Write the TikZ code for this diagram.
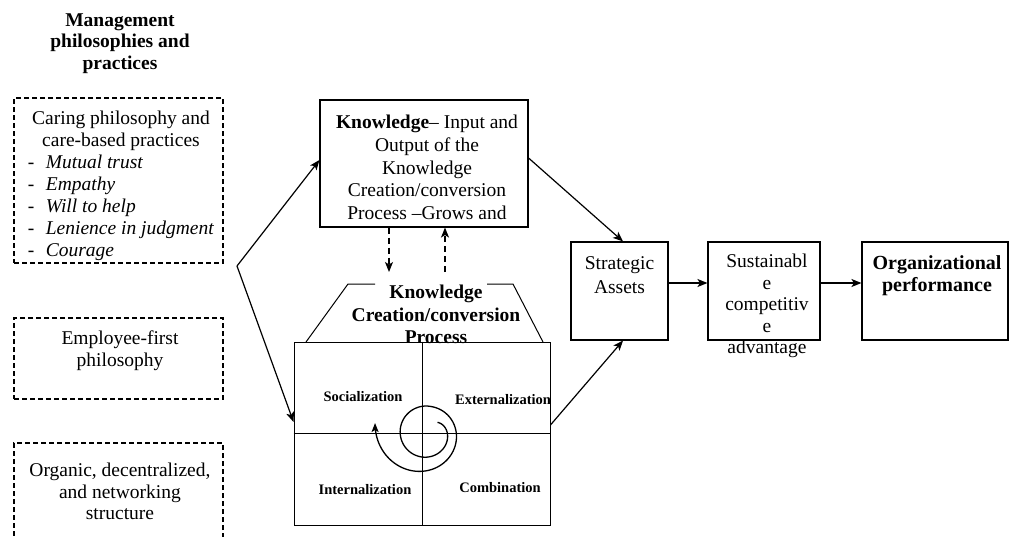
\documentclass[tikz,border=0pt]{standalone}
\usepackage{fontspec}
\setmainfont{Liberation Serif}
\usetikzlibrary{arrows.meta,calc}
\begin{document}
\begin{tikzpicture}[x=1pt,y=-1pt,
  every node/.style={font=\fontsize{19.5}{21.7}\selectfont, inner sep=0pt},
  dbox/.style={draw, dash pattern=on 5pt off 3pt, line width=1.1pt},
  sbox/.style={draw, line width=1.1pt},
  arr/.style={line width=1.2pt, -{Stealth[length=10pt,width=8pt,inset=2.5pt]}},
  darr/.style={arr, dash pattern=on 6pt off 4pt},
  quad/.style={font=\fontsize{14.5}{16}\selectfont\bfseries},
  ttl/.style={font=\fontsize{19.5}{21.7}\selectfont\bfseries, align=center},
  txt/.style={align=center}]
\useasboundingbox (0,0) rectangle (1010,536);
\clip (0,0) rectangle (1010,536);

% left column
\node[ttl] (mgmt) at (120,43.5) {Management\\philosophies and\\practices};
\node[dbox, minimum width=209pt, minimum height=165pt] (care) at (118.5,180.5) {};
\node[dbox, minimum width=209pt, minimum height=81pt] (emp) at (118.5,358.5) {};
\node[dbox, minimum width=209pt, minimum height=110pt] (org) at (118.5,498) {};
\node[font=\fontsize{19.5}{21.9}\selectfont] (caretxt) at (121,186) {%
\begin{tabular}{@{}l@{}}
\multicolumn{1}{@{}c@{}}{Caring philosophy and}\\
\multicolumn{1}{@{}c@{}}{care-based practices}\\
\makebox[18pt][l]{-}\textit{Mutual trust}\\
\makebox[18pt][l]{-}\textit{Empathy}\\
\makebox[18pt][l]{-}\textit{Will to help}\\
\makebox[18pt][l]{-}\textit{Lenience in judgment}\\
\makebox[18pt][l]{-}\textit{Courage}
\end{tabular}};
\node[txt] (emptxt) at (120,351) {Employee-first\\philosophy};
\node[txt] (orgtxt) at (120,491.5) {Organic, decentralized,\\and networking\\structure};

% knowledge box
\node[sbox, minimum width=208pt, minimum height=127pt] (know) at (424,163.5) {};
\node[txt, font=\fontsize{19.5}{22.7}\selectfont] (knowtxt) at (427,167.5)
  {\textbf{Knowledge}– Input and\\Output of the\\Knowledge\\Creation/conversion\\Process –Grows and};

% process grid
\node[draw, line width=0.9pt, minimum width=256pt, minimum height=183pt] (grid) at (422,433.5) {};
\draw[line width=0.9pt] (grid.north) -- (grid.south);
\draw[line width=0.9pt] (grid.west) -- (grid.east);
\draw[line width=1pt] (306,342) -- (348,284) -- (375,284);
\draw[line width=1pt] (487,284) -- (513,284) -- (543,342);
\node[ttl, font=\fontsize{19.5}{22.5}\selectfont\bfseries] (kcp) at (436,314.5) {Knowledge\\Creation/conversion\\Process};
\node[quad] (soc) at (363,397) {Socialization};
\node[quad] (ext) at (503,400) {Externalization};
\node[quad] (int) at (365,490) {Internalization};
\node[quad] (com) at (500,488) {Combination};
\draw[line width=1.3pt, -{Stealth[length=9pt,width=7pt,inset=2pt]}]
  plot[domain=0:590, samples=180, smooth, variable=\s]
  ({426+(26-11*exp(-\s/50)+0.0058*max(\s-320,0.001)^1.5)*cos(40-\s)},
   {432-(26-11*exp(-\s/50)+0.0058*max(\s-320,0.001)^1.5)*sin(40-\s)});

% right boxes
\node[sbox, minimum width=97pt, minimum height=98pt] (sa) at (619.5,291) {};
\node[txt, font=\fontsize{19.5}{23.5}\selectfont] (satxt) at (619.5,275) {Strategic\\Assets};
\node[sbox, minimum width=112pt, minimum height=98pt] (sus) at (764,291) {};
\node[txt, font=\fontsize{19.5}{21.5}\selectfont] (sustxt) at (767,306) {Sustainabl\\e\\competitiv\\e\\advantage};
\node[sbox, minimum width=146pt, minimum height=98pt] (op) at (935,291) {};
\node[ttl, font=\fontsize{20}{22}\selectfont\bfseries] (optxt) at (937,276) {Organizational\\performance};

% connectors
\coordinate (fork) at (237,266);
\draw[arr] (fork) -- ([yshift=3.5pt]know.west);
\draw[arr] (fork) -- ([yshift=11.5pt]grid.west);
\draw[arr] ([yshift=5.5pt]know.east) -- ([xshift=3.5pt]sa.north);
\draw[arr] ([yshift=8.5pt]grid.east) -- ([xshift=3.5pt]sa.south);
\draw[arr] ([yshift=8pt]sa.east) -- ([yshift=8pt]sus.west);
\draw[arr] ([yshift=8pt]sus.east) -- ([yshift=8pt]op.west);
\coordinate (dd) at (389,272);
\coordinate (du) at (445,272);
\draw[darr] (know.south -| dd) -- (dd);
\draw[darr] (du) -- (know.south -| du);
\end{tikzpicture}
\end{document}
